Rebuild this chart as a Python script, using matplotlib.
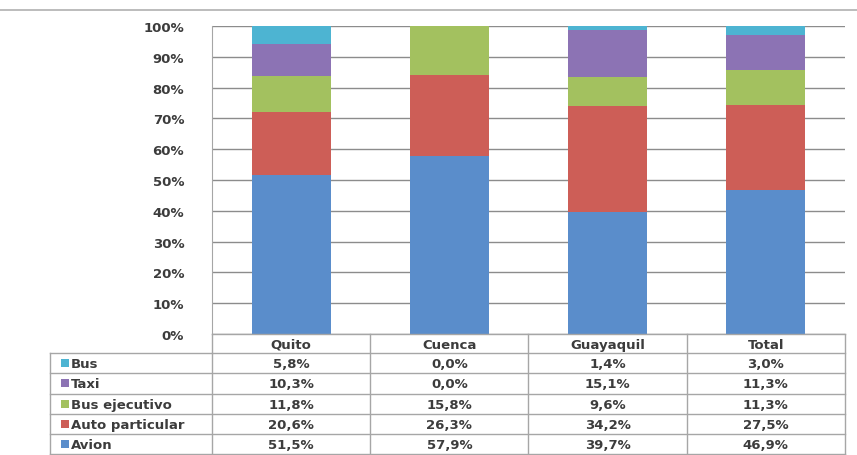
import matplotlib
matplotlib.use('Agg')
import matplotlib.pyplot as plt
import numpy as np

categories = ['Quito', 'Cuenca', 'Guayaquil', 'Total']
series_names = ['Avion', 'Auto particular', 'Bus ejecutivo', 'Taxi', 'Bus']
avion = [51.5, 57.9, 39.7, 46.9]
auto_particular = [20.6, 26.3, 34.2, 27.5]
bus_ejecutivo = [11.8, 15.8, 9.6, 11.3]
taxi = [10.3, 0.0, 15.1, 11.3]
bus = [5.8, 0.0, 1.4, 3.0]
series_values = [avion, auto_particular, bus_ejecutivo, taxi, bus]
colors = ['#5A8DCB', '#CD5E57', '#A3C15F', '#8C73B4', '#4DB4D2']
yticks = [0, 10, 20, 30, 40, 50, 60, 70, 80, 90, 100]

W, H = 857, 456
fig = plt.figure(figsize=(W / 100, H / 100), dpi=100)
fig.patch.set_facecolor('white')
L, R, T, B = 212, 845, 27, 335
ax = fig.add_axes([L / W, 1 - B / H, (R - L) / W, (B - T) / H])

txt_color = '#3c3c3c'
grid_color = '#8c8c8c'
line_color = '#a6a6a6'
fs = 9.5

x = np.arange(len(categories))
bottom = np.zeros(len(categories))
for vals, c in zip(series_values, colors):
    ax.bar(x, vals, 0.5, bottom=bottom, color=c, zorder=3, linewidth=0)
    bottom += np.array(vals)

ax.set_xlim(-0.5, len(categories) - 0.5)
ax.set_ylim(0, 100)
ax.set_yticks(yticks)
ax.set_yticklabels([f'{v}%' for v in yticks], fontsize=fs, fontweight='bold', color=txt_color)
ax.set_xticks([])
ax.yaxis.grid(True, color=grid_color, lw=1, zorder=0)
ax.tick_params(axis='y', length=0, pad=20)
for s in ['top', 'right', 'bottom']:
    ax.spines[s].set_visible(False)
ax.spines['left'].set_color(line_color)

# overlay in pixel coordinates for table
ov = fig.add_axes([0, 0, 1, 1])
ov.set_xlim(0, W)
ov.set_ylim(H, 0)
ov.axis('off')
ov.patch.set_visible(False)

# top border line
ov.plot([0, W], [10.5, 10.5], color='#b0b0b0', lw=1.2)

ncol = len(categories)
colw = (R - L) / ncol
xs = [L + k * colw for k in range(ncol + 1)]
TL = 50
head_top, head_bot = 335, 354
row_h = 20.3
rows = list(reversed(range(len(series_names))))
ys = [head_bot + i * row_h for i in range(len(rows) + 1)]

# header
ov.plot([L, R], [head_top, head_top], color=line_color, lw=1)
for i, cat in enumerate(categories):
    ov.text((xs[i] + xs[i + 1]) / 2, (head_top + head_bot) / 2 + 1, cat, ha='center', va='center',
            fontsize=fs, fontweight='bold', color=txt_color)
for yy in ys:
    ov.plot([TL, R], [yy, yy], color=line_color, lw=1)
ov.plot([TL, TL], [ys[0], ys[-1]], color=line_color, lw=1)
for xx in xs:
    ov.plot([xx, xx], [head_top if xx != L else ys[0], ys[-1]], color=line_color, lw=1)
ov.plot([L, L], [head_top, ys[0]], color=line_color, lw=1)

for r, si in enumerate(rows):
    yc = (ys[r] + ys[r + 1]) / 2
    ov.scatter([65], [yc], marker='s', s=26, color=colors[si], linewidths=0)
    ov.text(71, yc + 0.5, series_names[si], ha='left', va='center', fontsize=fs,
            fontweight='bold', color=txt_color)
    for i in range(ncol):
        val = series_values[si][i]
        ov.text((xs[i] + xs[i + 1]) / 2, yc + 0.5, f'{val:.1f}%'.replace('.', ','), ha='center',
                va='center', fontsize=fs, fontweight='bold', color=txt_color)

fig.savefig('out.png', dpi=100)
